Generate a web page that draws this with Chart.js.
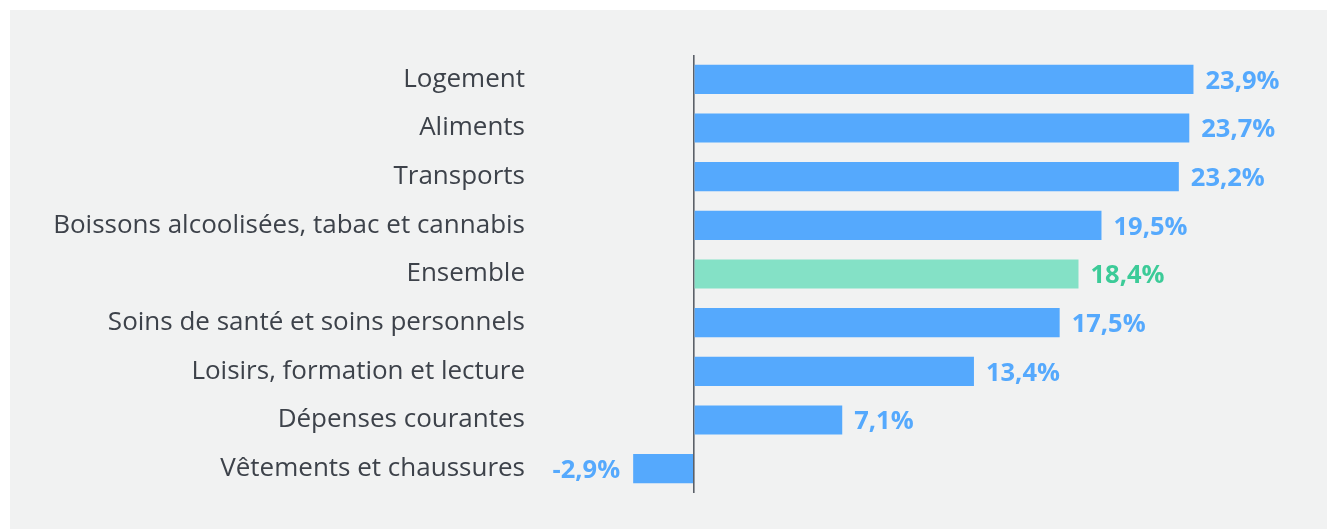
<!DOCTYPE html>
<html lang="fr">
<head>
    <meta charset="UTF-8">
    <style>
        html, body { margin: 0; padding: 0; background: #ffffff; }
        #wrap { width: 1327px; height: 529px; position: relative; }
    </style>
</head>
<body>
    <div id="wrap"><canvas id="barChart" width="1327" height="529"></canvas></div>

    <script src="https://cdn.jsdelivr.net/npm/chart.js"></script>
    <script>
        const categories = [
            "Logement",
            "Aliments",
            "Transports",
            "Boissons alcoolisées, tabac et cannabis",
            "Ensemble",
            "Soins de santé et soins personnels",
            "Loisirs, formation et lecture",
            "Dépenses courantes",
            "Vêtements et chaussures"
        ];
        const values = [23.9, 23.7, 23.2, 19.5, 18.4, 17.5, 13.4, 7.1, -2.9];
        const highlight = "Ensemble";

        const blue = "#55a9fd";
        const green = "#84e1c6";
        const blueText = "#55a9fd";
        const greenText = "#3ccb98";

        const barColors = categories.map(c => c === highlight ? green : blue);
        const textColors = categories.map(c => c === highlight ? greenText : blueText);

        // grey panel behind the chart
        const panel = {
            id: "panel",
            beforeDraw(chart) {
                const c = chart.ctx;
                c.save();
                c.fillStyle = "#f1f2f2";
                c.fillRect(10, 10, chart.width - 10, chart.height - 10);
                c.restore();
            }
        };

        // value labels next to each bar, "23,9%" style
        const valueLabels = {
            id: "valueLabels",
            afterDatasetsDraw(chart) {
                const c = chart.ctx;
                const meta = chart.getDatasetMeta(0);
                c.save();
                c.font = "bold 25.5px 'Open Sans'";
                c.textBaseline = "middle";
                meta.data.forEach((bar, i) => {
                    const v = values[i];
                    const txt = v.toFixed(1).replace(".", ",") + "%";
                    c.fillStyle = textColors[i];
                    if (v >= 0) {
                        c.textAlign = "left";
                        c.fillText(txt, bar.x + 12, bar.y + 2);
                    } else {
                        c.textAlign = "right";
                        c.fillText(txt, bar.x - 13, bar.y + 2);
                    }
                });
                c.restore();
            }
        };

        const config = {
            type: "bar",
            data: {
                labels: categories,
                datasets: [{
                    data: values,
                    backgroundColor: barColors,
                    borderWidth: 0,
                    barPercentage: 0.6,
                    categoryPercentage: 1
                }]
            },
            options: {
                indexAxis: "y",
                responsive: false,
                animation: false,
                layout: {
                    padding: { top: 55, bottom: 36, left: 0, right: 6 }
                },
                plugins: {
                    legend: { display: false },
                    tooltip: { enabled: false }
                },
                scales: {
                    x: {
                        min: -7.5,
                        max: 30,
                        afterFit(scale) { scale.height = 0; },
                        ticks: { display: false, stepSize: 2.5 },
                        border: { display: false },
                        grid: {
                            drawTicks: false,
                            lineWidth: 1.6,
                            color: ctx => ctx.tick && ctx.tick.value === 0 ? "#5b6068" : "transparent"
                        }
                    },
                    y: {
                        afterFit(scale) { scale.width = 537; },
                        border: { display: false },
                        grid: { display: false, drawTicks: false },
                        ticks: {
                            padding: 12,
                            color: "#3d424a",
                            font: { family: "'Open Sans'", size: 26 }
                        }
                    }
                }
            },
            plugins: [panel, valueLabels]
        };

        const ctx = document.getElementById("barChart").getContext("2d");
        new Chart(ctx, config);
    </script>
</body>
</html>
